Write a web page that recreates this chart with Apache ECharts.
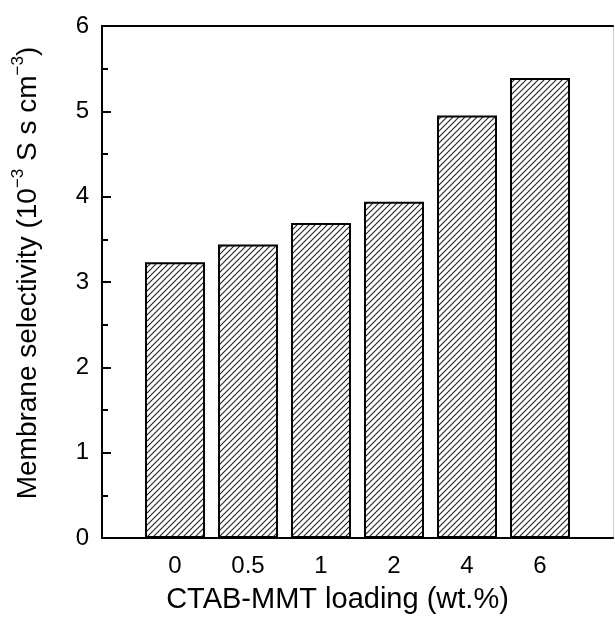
<!DOCTYPE html>
<html>
<head>
<meta charset="utf-8">
<script src="https://cdn.jsdelivr.net/npm/echarts@6/dist/echarts.min.js"></script>
<style>
  html, body { margin: 0; padding: 0; background: #fff; }
  #chart { width: 615px; height: 619px; }
</style>
</head>
<body>
<div id="chart"></div>
<script>
// 数据
const loadings = ['0', '0.5', '1', '2', '4', '6'];
const selectivity = [3.23, 3.44, 3.69, 3.94, 4.95, 5.39];
const yTicks = [0, 1, 2, 3, 4, 5, 6];

const FONT = 'Liberation Sans, Arial, sans-serif';

// 斜线填充
const makeHatch = () => {
  const c = document.createElement('canvas');
  c.width = 6; c.height = 6;
  const ctx = c.getContext('2d');
  ctx.fillStyle = '#fff';
  ctx.fillRect(0, 0, 6, 6);
  ctx.strokeStyle = '#222';
  ctx.lineWidth = 1.1;
  ctx.beginPath();
  ctx.moveTo(-1, 7); ctx.lineTo(7, -1);
  ctx.moveTo(-4, 4); ctx.lineTo(4, -4);
  ctx.moveTo(2, 10); ctx.lineTo(10, 2);
  ctx.stroke();
  return c;
};

const positions = loadings.map((_, i) => i + 1);
const barData = selectivity.map((v, i) => [positions[i], v]);

const myChart = echarts.init(document.getElementById('chart'));
myChart.setOption({
  animation: false,
  grid: { left: 102, right: 2, top: 26, bottom: 78 },
  xAxis: [
    {
      type: 'value',
      min: 0,
      max: 7,
      interval: 1,
      name: 'CTAB-MMT loading (wt.%)',
      nameLocation: 'middle',
      nameGap: 47,
      nameTextStyle: { fontFamily: FONT, fontSize: 29, color: '#000', padding: [0, 40, 0, 0] },
      axisLine: { onZero: false, lineStyle: { color: '#000', width: 2 } },
      axisTick: { inside: true, length: 6, lineStyle: { color: '#000', width: 1.5 }, customValues: positions },
      axisLabel: {
        customValues: positions,
        margin: 16,
        fontFamily: FONT, fontSize: 24, color: '#000',
        formatter: (v) => loadings[v - 1]
      },
      splitLine: { show: false }
    },
    {
      type: 'value', position: 'top', min: 0, max: 7,
      axisLine: { show: true, onZero: false, lineStyle: { color: '#000', width: 2 } },
      axisTick: { show: false }, axisLabel: { show: false }, splitLine: { show: false }
    }
  ],
  yAxis: [
    {
      type: 'value',
      min: 0,
      max: 6,
      interval: 1,
      name: '{n|Membrane selectivity (10}{s|−3}{n| S s cm}{s|−3}{n|)}',
      nameLocation: 'middle',
      nameGap: 60,
      nameTextStyle: {
        padding: [0, 0, 0, 18],
        rich: {
          n: { fontFamily: FONT, fontSize: 28, color: '#000', lineHeight: 32, verticalAlign: 'bottom' },
          s: { fontFamily: FONT, fontSize: 17, color: '#000', lineHeight: 16, verticalAlign: 'top' }
        }
      },
      axisLine: { show: true, onZero: false, lineStyle: { color: '#000', width: 2 } },
      axisTick: { inside: true, length: 9, lineStyle: { color: '#000', width: 2 } },
      minorTick: { show: true, splitNumber: 2, length: 6, lineStyle: { color: '#000', width: 2 } },
      axisLabel: {
        margin: 13,
        fontFamily: FONT, fontSize: 24, color: '#000',
        formatter: (v) => yTicks.includes(v) ? String(v) : ''
      },
      splitLine: { show: false }
    },
    {
      type: 'value', position: 'right', min: 0, max: 6,
      axisLine: { show: true, onZero: false, lineStyle: { color: '#ccc', width: 1 } },
      axisTick: { show: false }, axisLabel: { show: false }, splitLine: { show: false }
    }
  ],
  series: [
    {
      type: 'bar',
      data: barData,
      barWidth: 60,
      itemStyle: {
        color: { image: makeHatch(), repeat: 'repeat' },
        borderColor: '#000',
        borderWidth: 2
      }
    }
  ]
});
window.onresize = function () {
  myChart.resize();
};
</script>
</body>
</html>
